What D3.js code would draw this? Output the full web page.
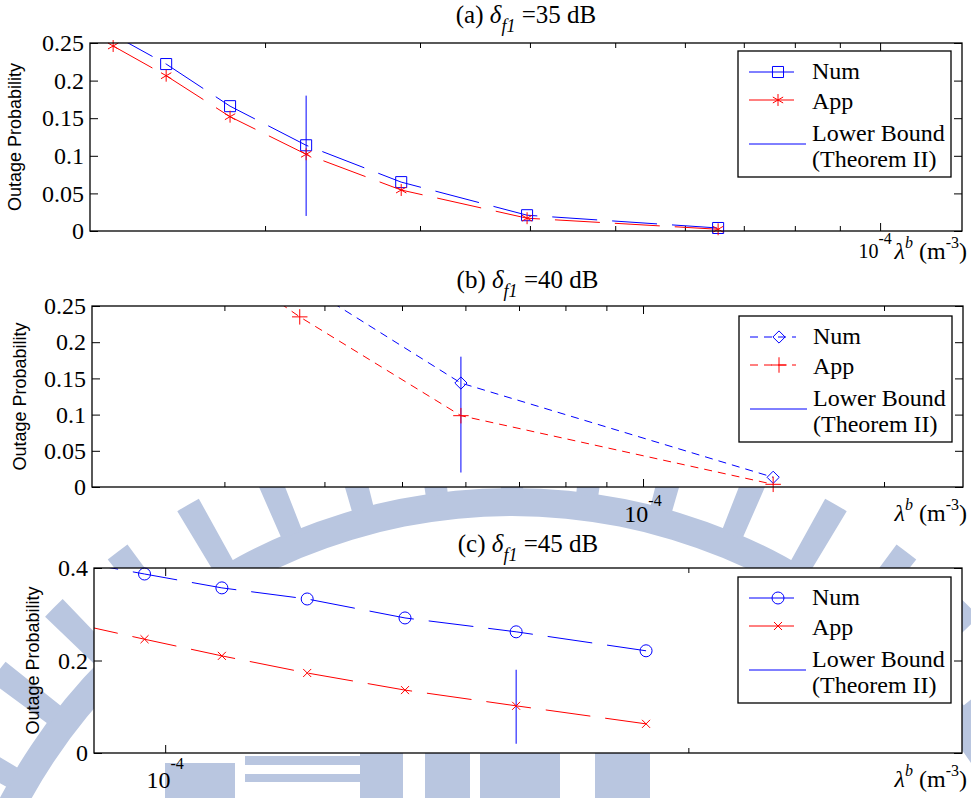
<!DOCTYPE html>
<html>
<head>
<meta charset="utf-8">
<script src="https://cdn.jsdelivr.net/npm/d3@7"></script>
<style>
  body { margin: 0; background: #fff; }
  svg { display: block; }
</style>
</head>
<body>
<div id="chart"></div>
<script>
// values

// (a) delta_f1 = 35 dB
var lambdaA = [1.344e-5, 1.544e-5, 1.825e-5, 2.227e-5, 2.856e-5, 3.970e-5, 6.545e-5];
var numA    = [0.261, 0.222, 0.166, 0.114, 0.065, 0.021, 0.004];
var appA    = [0.246, 0.2065, 0.152, 0.102, 0.0545, 0.017, 0.0023];
var boundXA = 2.227e-5;
var boundA  = [0.02, 0.18];

// (b) delta_f1 = 40 dB
var lambdaB = [2.794e-5, 3.726e-5, 5.923e-5, 1.454e-4];
var numB    = [0.395, 0.283, 0.1436, 0.0134];
var appB    = [0.331, 0.235, 0.0985, 0.0037];
var boundXB = 5.923e-5;
var boundB  = [0.02, 0.18];

// (c) delta_f1 = 45 dB
var lambdaC = [0.886e-4, 0.973e-4, 1.078e-4, 1.207e-4, 1.374e-4, 1.592e-4, 1.891e-4];
var numC    = [0.415, 0.387, 0.357, 0.333, 0.292, 0.262, 0.221];
var appC    = [0.280, 0.246, 0.210, 0.173, 0.136, 0.102, 0.063];
var boundXC = 1.592e-4;
var boundC  = [0.02, 0.18];

// axis limits and ticks
var xLimA = [1.265e-5, 1.239e-4];
var xLimB = [2.05e-5, 2.51e-4];
var xLimC = [0.910e-4, 2.874e-4];
var xMinorA = [2e-5, 3e-5, 4e-5, 5e-5, 6e-5, 7e-5, 8e-5, 9e-5];
var xMinorB = [3e-5, 4e-5, 5e-5, 6e-5, 7e-5, 8e-5, 9e-5, 2e-4];
var xMinorC = [2e-4];
var xMajor = [1e-4];
var xMajorLabel = ['10', '-4'];
var yTicksAB  = [0, 0.05, 0.1, 0.15, 0.2, 0.25];
var yLabelsAB = ['0', '0.05', '0.1', '0.15', '0.2', '0.25'];
var yTicksC   = [0, 0.2, 0.4];
var yLabelsC  = ['0', '0.2', '0.4'];
var legendNames = ['Num', 'App', 'Lower Bound', '(Theorem II)'];
var titleDb = ['35', '40', '45'];

var W = 971, H = 798;
var serif = '"Liberation Serif", "Times New Roman", serif';
var sans = '"Liberation Sans", Arial, sans-serif';
var blue = '#0000ff', red = '#ff0000';

var svg = d3.select('#chart').append('svg')
  .attr('width', W)
  .attr('height', H);

var sym = {
  square:  d3.symbol().type(d3.symbolSquare2).size(155),
  star:    d3.symbol().type(d3.symbolAsterisk).size(100),
  diamond: d3.symbol().type(d3.symbolDiamond2).size(95),
  plus:    d3.symbol().type(d3.symbolPlus).size(80),
  circle:  d3.symbol().type(d3.symbolCircle).size(113),
  cross:   d3.symbol().type(d3.symbolTimes).size(44)
};

drawWatermark();

drawPanel({
  id: 'a', db: titleDb[0],
  left: 90, right: 962, top: 43, bottom: 231,
  xLim: xLimA, yLim: [0, 0.25], xMinor: xMinorA,
  yTicks: yTicksAB, yLabels: yLabelsAB,
  lambda: lambdaA, num: numA, app: appA, boundX: boundXA, bound: boundA,
  numSym: 'square', appSym: 'star', dash: '45,15',
  titleY: 23, yLabelX: 21, tickLabelY: 258, tickLabelSize: 20, tickDx: -5, supRaise: 14,
  xLabelY: 259, legendX: 738, legendY: 51
});

drawPanel({
  id: 'b', db: titleDb[1],
  left: 92, right: 963, top: 306, bottom: 487,
  xLim: xLimB, yLim: [0, 0.25], xMinor: xMinorB,
  yTicks: yTicksAB, yLabels: yLabelsAB,
  lambda: lambdaB, num: numB, app: appB, boundX: boundXB, bound: boundB,
  numSym: 'diamond', appSym: 'plus', dash: '8,6',
  titleY: 288, yLabelX: 26, tickLabelY: 522, tickLabelSize: 24, tickDx: 0, supRaise: 16,
  xLabelY: 521, legendX: 739, legendY: 316
});

drawPanel({
  id: 'c', db: titleDb[2],
  left: 94, right: 962, top: 568, bottom: 753,
  xLim: xLimC, yLim: [0, 0.4], xMinor: xMinorC,
  yTicks: yTicksC, yLabels: yLabelsC,
  lambda: lambdaC, num: numC, app: appC, boundX: boundXC, bound: boundC,
  numSym: 'circle', appSym: 'cross', dash: '45,15',
  titleY: 552, yLabelX: 39, tickLabelY: 788, tickLabelSize: 24, tickDx: 0, supRaise: 19,
  xLabelY: 787, legendX: 738, legendY: 577
});


function addTicks(g, axis, values, size, tx, ty) {
  var a = g.append('g')
    .attr('transform', 'translate(' + tx + ',' + ty + ')')
    .call(axis.tickValues(values).tickSize(size).tickFormat(''));
  a.select('.domain').remove();
  a.selectAll('line').attr('stroke', '#000');
  return a;
}

function drawPanel(p) {
  var x = d3.scaleLog().domain(p.xLim).range([p.left, p.right]);
  var y = d3.scaleLinear().domain(p.yLim).range([p.bottom, p.top]);
  var g = svg.append('g');

  // white axes background hides the watermark
  g.append('rect')
    .attr('x', p.left).attr('y', p.top)
    .attr('width', p.right - p.left).attr('height', p.bottom - p.top)
    .attr('fill', '#fff');

  g.append('clipPath').attr('id', 'clip-' + p.id)
    .append('rect')
    .attr('x', p.left).attr('y', p.top)
    .attr('width', p.right - p.left).attr('height', p.bottom - p.top);

  // ticks point inward on all four sides
  addTicks(g, d3.axisBottom(x), p.xMinor, -5, 0, p.bottom);
  addTicks(g, d3.axisTop(x), p.xMinor, -5, 0, p.top);
  addTicks(g, d3.axisBottom(x), xMajor, -8, 0, p.bottom);
  addTicks(g, d3.axisTop(x), xMajor, -8, 0, p.top);
  addTicks(g, d3.axisRight(y), p.yTicks, -8, p.right, 0);

  var ya = g.append('g')
    .attr('transform', 'translate(' + p.left + ',0)')
    .call(d3.axisLeft(y).tickValues(p.yTicks).tickSize(-8).tickPadding(6)
      .tickFormat(function(d, i) { return p.yLabels[i]; }));
  ya.select('.domain').remove();
  ya.selectAll('line').attr('stroke', '#000');
  ya.selectAll('text')
    .attr('font-family', serif)
    .attr('font-size', 24)
    .attr('fill', '#000');

  // 10^-4 tick label
  var tl = g.append('text')
    .attr('x', x(xMajor[0]) + p.tickDx)
    .attr('y', p.tickLabelY)
    .attr('text-anchor', 'middle')
    .attr('font-family', serif)
    .attr('font-size', p.tickLabelSize);
  tl.append('tspan').text(xMajorLabel[0]);
  tl.append('tspan').attr('dy', -p.supRaise).attr('font-size', 16).text(xMajorLabel[1]);

  // curves
  var line = d3.line()
    .x(function(d) { return x(d[0]); })
    .y(function(d) { return y(d[1]); });

  var plot = g.append('g').attr('clip-path', 'url(#clip-' + p.id + ')');

  plot.append('path')
    .datum(d3.zip(p.lambda, p.num))
    .attr('d', line)
    .attr('fill', 'none')
    .attr('stroke', blue)
    .attr('stroke-width', 1)
    .attr('stroke-dasharray', p.dash);

  plot.append('path')
    .datum(d3.zip(p.lambda, p.app))
    .attr('d', line)
    .attr('fill', 'none')
    .attr('stroke', red)
    .attr('stroke-width', 1)
    .attr('stroke-dasharray', p.dash);

  plot.append('path')
    .datum([[p.boundX, p.bound[0]], [p.boundX, p.bound[1]]])
    .attr('d', line)
    .attr('fill', 'none')
    .attr('stroke', blue)
    .attr('stroke-width', 1);

  // markers, only for points inside the limits
  function inside(d) {
    return d[0] >= p.xLim[0] && d[0] <= p.xLim[1] && d[1] >= p.yLim[0] && d[1] <= p.yLim[1];
  }

  g.selectAll('.num-' + p.id)
    .data(d3.zip(p.lambda, p.num).filter(inside))
    .enter().append('path')
    .attr('class', 'num-' + p.id)
    .attr('transform', function(d) { return 'translate(' + x(d[0]) + ',' + y(d[1]) + ')'; })
    .attr('d', sym[p.numSym])
    .attr('fill', 'none')
    .attr('stroke', blue);

  g.selectAll('.app-' + p.id)
    .data(d3.zip(p.lambda, p.app).filter(inside))
    .enter().append('path')
    .attr('class', 'app-' + p.id)
    .attr('transform', function(d) { return 'translate(' + x(d[0]) + ',' + y(d[1]) + ')'; })
    .attr('d', sym[p.appSym])
    .attr('fill', 'none')
    .attr('stroke', red);

  // axes box
  g.append('rect')
    .attr('x', p.left).attr('y', p.top)
    .attr('width', p.right - p.left).attr('height', p.bottom - p.top)
    .attr('fill', 'none')
    .attr('stroke', '#000')
    .attr('stroke-width', 1.3);

  // title
  var tt = g.append('text')
    .attr('x', (p.left + p.right) / 2)
    .attr('y', p.titleY)
    .attr('text-anchor', 'middle')
    .attr('font-family', serif)
    .attr('font-size', 25);
  tt.append('tspan').text('(' + p.id + ') ');
  tt.append('tspan').attr('font-style', 'italic').text('δ');
  tt.append('tspan').attr('font-style', 'italic').attr('font-size', 18).attr('dy', 9).text('f1');
  tt.append('tspan').attr('dy', -9).text(' =' + p.db + ' dB');

  // x label
  var xl = g.append('text')
    .attr('x', 967)
    .attr('y', p.xLabelY)
    .attr('text-anchor', 'end')
    .attr('font-family', serif)
    .attr('font-size', 24);
  xl.append('tspan').attr('font-style', 'italic').text('λ');
  xl.append('tspan').attr('font-style', 'italic').attr('font-size', 16).attr('dy', -11).text('b');
  xl.append('tspan').attr('dy', 11).text(' (m');
  xl.append('tspan').attr('font-size', 16).attr('dy', -11).text('-3');
  xl.append('tspan').attr('dy', 11).text(')');

  // y label
  g.append('text')
    .attr('transform', 'translate(' + p.yLabelX + ',' + ((p.top + p.bottom) / 2) + ') rotate(-90)')
    .attr('text-anchor', 'middle')
    .attr('font-family', sans)
    .attr('font-size', 18)
    .text('Outage Probability');

  // legend
  var lx = p.legendX, ly = p.legendY;
  var lg = g.append('g');
  lg.append('rect')
    .attr('x', lx).attr('y', ly)
    .attr('width', 213).attr('height', 126)
    .attr('fill', '#fff')
    .attr('stroke', '#000')
    .attr('stroke-width', 1.3);

  var rows = [
    {name: legendNames[0], color: blue, symbol: p.numSym, lineY: 21, textY: 28},
    {name: legendNames[1], color: red, symbol: p.appSym, lineY: 49, textY: 58}
  ];
  rows.forEach(function(r) {
    lg.append('line')
      .attr('x1', lx + 11).attr('x2', lx + 57)
      .attr('y1', ly + r.lineY).attr('y2', ly + r.lineY)
      .attr('stroke', r.color)
      .attr('stroke-dasharray', p.dash);
    lg.append('path')
      .attr('transform', 'translate(' + (lx + 40) + ',' + (ly + r.lineY) + ')')
      .attr('d', sym[r.symbol])
      .attr('fill', 'none')
      .attr('stroke', r.color);
    lg.append('text')
      .attr('x', lx + 74).attr('y', ly + r.textY)
      .attr('font-family', serif).attr('font-size', 24)
      .text(r.name);
  });
  lg.append('line')
    .attr('x1', lx + 11).attr('x2', lx + 68)
    .attr('y1', ly + 93).attr('y2', ly + 93)
    .attr('stroke', blue);
  lg.append('text')
    .attr('x', lx + 74).attr('y', ly + 90)
    .attr('font-family', serif).attr('font-size', 24)
    .text(legendNames[2]);
  lg.append('text')
    .attr('x', lx + 74).attr('y', ly + 116)
    .attr('font-family', serif).attr('font-size', 24)
    .text(legendNames[3]);
}

// faint university emblem behind the figure
function drawWatermark() {
  var wm = svg.append('g').attr('fill', '#b9c6e0');
  var ring = wm.append('g').attr('transform', 'translate(512,1066)');
  var arc = d3.arc();
  var deg = Math.PI / 180;

  ring.append('path')
    .attr('d', arc({innerRadius: 550, outerRadius: 578, startAngle: -90 * deg, endAngle: 90 * deg}));

  d3.range(-82.5, 83, 7.5).forEach(function(a) {
    ring.append('path')
      .attr('d', arc({innerRadius: 575, outerRadius: 648,
        startAngle: (a - 1.1) * deg, endAngle: (a + 1.1) * deg}));
  });

  var blocks = [
    [165, 763, 70, 35], [245, 756, 115, 9], [245, 774, 115, 8],
    [360, 753, 43, 45], [425, 753, 45, 45], [480, 753, 80, 45],
    [595, 753, 55, 45]
  ];
  wm.selectAll('rect.blk')
    .data(blocks)
    .enter().append('rect')
    .attr('class', 'blk')
    .attr('x', function(d) { return d[0]; })
    .attr('y', function(d) { return d[1]; })
    .attr('width', function(d) { return d[2]; })
    .attr('height', function(d) { return d[3]; });
}
</script>
</body>
</html>
